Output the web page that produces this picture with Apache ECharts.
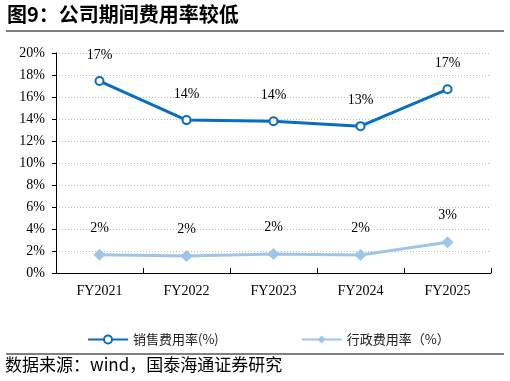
<!DOCTYPE html>
<html><head><meta charset="utf-8">
<script src="https://cdn.jsdelivr.net/npm/echarts@6/dist/echarts.min.js"></script>
<style>html,body{margin:0;padding:0;background:#fff}#c{width:510px;height:381px}</style>
</head><body><div id="c"></div>
<script>
const categories = ['FY2021','FY2022','FY2023','FY2024','FY2025'];
const salesRate = [17.45, 13.9, 13.8, 13.35, 16.7];
const adminRate = [1.65, 1.55, 1.72, 1.63, 2.8];
const seriesNames = ['销售费用率(%)', '行政费用率（%）'];
const yTicks = [0, 2, 4, 6, 8, 10, 12, 14, 16, 18, 20];
const serif = '"Liberation Serif","Noto Sans CJK SC",serif';
const cjk = '"Noto Sans CJK SC","Liberation Serif",sans-serif';
const chart = echarts.init(document.getElementById('c'));
chart.setOption({
  animation: false,
  graphic: [
    {type:'text', left:7, top:4, style:{text:'图9：公司期间费用率较低', font:'bold 20px '+cjk, fill:'#000'}},
    {type:'line', shape:{x1:6,y1:31,x2:504,y2:31}, style:{stroke:'#000', lineWidth:1}},
    {type:'line', shape:{x1:6,y1:354,x2:504,y2:354}, style:{stroke:'#000', lineWidth:1}},
    {type:'text', left:5, top:356, style:{text:'数据来源：wind，国泰海通证券研究', font:'17px '+cjk, fill:'#000'}}
  ],
  grid: {left:56, right:19, top:53, bottom:108},
  legend: {
    top: 328, left: 82, itemGap: 82, itemWidth: 40, itemHeight: 10,
    textStyle: {fontFamily: cjk, fontSize: 13, color:'#222'},
    data: seriesNames
  },
  xAxis: {
    type:'category', data: categories, boundaryGap: true,
    axisLine:{lineStyle:{color:'#000'}},
    axisTick:{show:true, inside:true, length:5, lineStyle:{color:'#000'}},
    axisLabel:{fontFamily: serif, fontSize: 14, color:'#000', margin: 11}
  },
  yAxis: {
    type:'value', min: yTicks[0], max: yTicks[yTicks.length-1], interval: 2,
    axisLine:{show:true, lineStyle:{color:'#000'}},
    axisTick:{show:true, length:4, lineStyle:{color:'#000'}},
    axisLabel:{fontFamily: serif, fontSize: 14, color:'#000', formatter: v => v + '%', margin: 11},
    splitLine:{show:true, lineStyle:{color:'#bbb', type:[1,2]}}
  },
  series: [
    {
      name: seriesNames[0], type:'line', data: salesRate,
      symbol:'circle', symbolSize: 8, showAllSymbol: true,
      lineStyle:{color:'#0a6dc2', width:3},
      itemStyle:{color:'#fff', borderColor:'#0a6dc2', borderWidth:2},
      label:{show:true, position:'top', distance: 14, fontFamily: serif, fontSize: 14, color:'#000',
        formatter: p => Math.round(p.value) + '%'}
    },
    {
      name: seriesNames[1], type:'line', data: adminRate,
      symbol:'diamond', symbolSize: 12,
      lineStyle:{color:'#9fc5e8', width:3},
      itemStyle:{color:'#9fc5e8'},
      label:{show:true, position:'top', distance: 14, fontFamily: serif, fontSize: 14, color:'#000',
        formatter: p => Math.round(p.value) + '%'}
    }
  ]
});
</script></body></html>
